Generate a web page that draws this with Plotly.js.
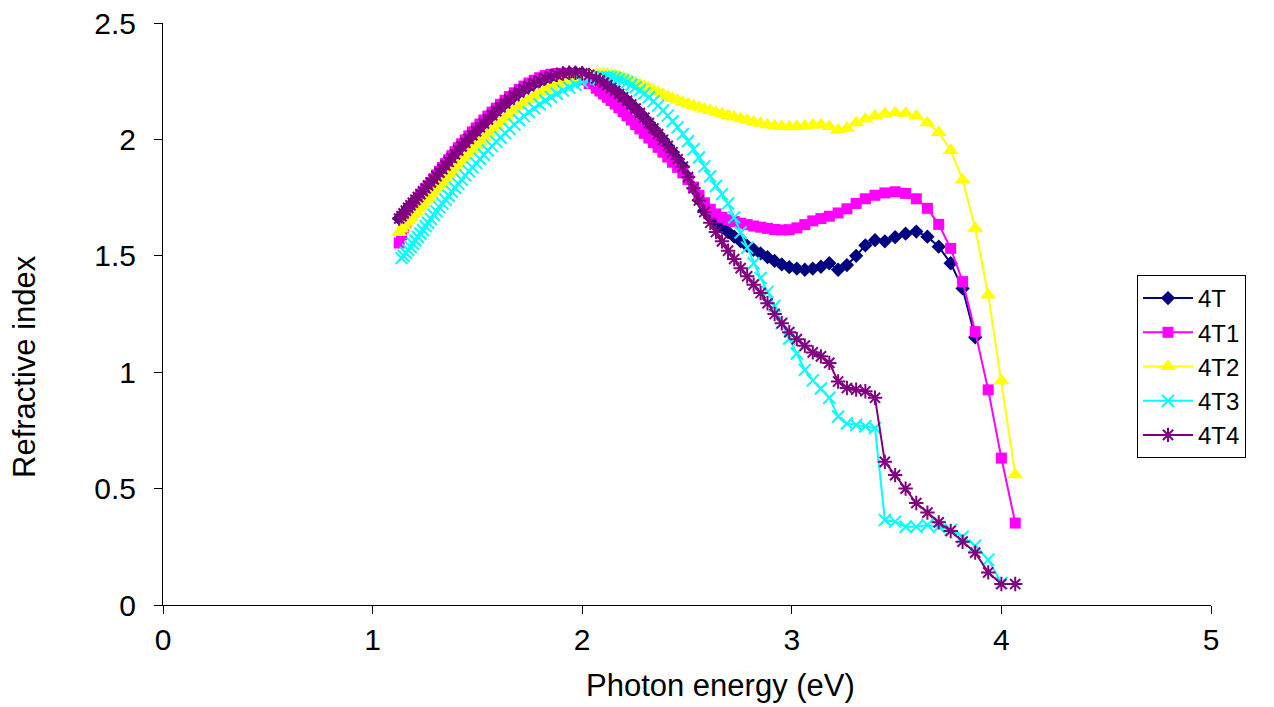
<!DOCTYPE html>
<html>
<head>
<meta charset="utf-8">
<script src="https://cdn.plot.ly/plotly-3.0.1.min.js"></script>
<style>
html,body{margin:0;padding:0;background:#fff;}
#chart{width:1274px;height:707px;}
</style>
</head>
<body>
<div id="chart"></div>
<script>
// Photon energy (eV) sampling shared by all series
const energy = [
1.127,1.138,1.148,1.159,1.170,1.181,1.192,1.204,1.216,1.228,
1.240,1.253,1.265,1.278,1.292,1.305,1.319,1.333,1.348,1.363,
1.378,1.393,1.409,1.425,1.442,1.459,1.476,1.494,1.512,1.531,
1.550,1.570,1.590,1.610,1.632,1.653,1.676,1.699,1.722,1.746,
1.771,1.797,1.824,1.851,1.879,1.908,1.938,1.968,2.000,2.033,
2.067,2.084,2.102,2.120,2.138,2.157,2.175,2.195,2.214,2.234,
2.255,2.275,2.296,2.318,2.340,2.362,2.385,2.408,2.431,2.455,
2.480,2.505,2.531,2.557,2.583,2.611,2.638,2.667,2.696,2.725,
2.756,2.787,2.818,2.851,2.884,2.918,2.952,2.988,3.024,3.062,
3.100,3.139,3.179,3.221,3.263,3.307,3.351,3.397,3.444,3.493,
3.543,3.594,3.647,3.701,3.758,3.815,3.875,3.937,4.000,4.066];

const n4T = [
1.660,1.670,1.682,1.694,1.706,1.717,1.728,1.740,1.752,1.765,
1.777,1.790,1.802,1.815,1.828,1.842,1.857,1.872,1.888,1.904,
1.920,1.936,1.953,1.970,1.986,2.002,2.018,2.035,2.052,2.069,
2.086,2.104,2.121,2.138,2.155,2.171,2.187,2.202,2.216,2.229,
2.242,2.253,2.263,2.271,2.278,2.283,2.286,2.286,2.284,2.277,
2.262,2.254,2.244,2.233,2.221,2.208,2.195,2.181,2.166,2.150,
2.132,2.113,2.093,2.070,2.047,2.023,1.998,1.972,1.945,1.915,
1.882,1.838,1.790,1.740,1.695,1.665,1.643,1.622,1.602,1.582,
1.562,1.543,1.526,1.510,1.494,1.478,1.463,1.451,1.445,1.440,
1.445,1.453,1.468,1.440,1.460,1.500,1.545,1.567,1.562,1.580,
1.595,1.604,1.582,1.539,1.468,1.360,1.150,null,null,null];

const n4T1 = [
1.555,1.590,1.620,1.645,1.665,1.685,1.703,1.720,1.737,1.753,
1.769,1.785,1.800,1.815,1.831,1.847,1.863,1.879,1.896,1.913,
1.930,1.947,1.964,1.981,1.998,2.015,2.032,2.049,2.066,2.083,
2.100,2.117,2.134,2.151,2.168,2.184,2.200,2.215,2.229,2.242,
2.254,2.265,2.274,2.280,2.283,2.282,2.277,2.268,2.256,2.240,
2.220,2.208,2.195,2.181,2.167,2.152,2.136,2.119,2.101,2.083,
2.064,2.045,2.026,2.006,1.986,1.966,1.945,1.924,1.902,1.880,
1.856,1.828,1.795,1.760,1.728,1.700,1.680,1.665,1.655,1.647,
1.640,1.634,1.628,1.623,1.618,1.613,1.611,1.612,1.620,1.634,
1.650,1.660,1.670,1.684,1.702,1.725,1.745,1.760,1.770,1.775,
1.768,1.745,1.704,1.635,1.532,1.389,1.174,0.924,0.631,0.352];

const n4T2 = [
1.600,1.615,1.628,1.641,1.653,1.665,1.677,1.689,1.701,1.713,
1.725,1.738,1.750,1.763,1.777,1.790,1.804,1.818,1.833,1.848,
1.863,1.878,1.894,1.910,1.926,1.942,1.958,1.975,1.992,2.009,
2.026,2.043,2.060,2.077,2.094,2.110,2.127,2.143,2.158,2.173,
2.187,2.200,2.213,2.225,2.236,2.246,2.255,2.263,2.270,2.275,
2.279,2.280,2.280,2.279,2.277,2.274,2.270,2.265,2.259,2.252,
2.244,2.236,2.228,2.220,2.211,2.202,2.193,2.184,2.176,2.168,
2.160,2.152,2.145,2.138,2.131,2.124,2.117,2.110,2.103,2.096,
2.089,2.082,2.075,2.069,2.063,2.058,2.055,2.054,2.055,2.058,
2.062,2.063,2.055,2.040,2.048,2.072,2.088,2.100,2.110,2.115,
2.112,2.100,2.072,2.030,1.952,1.826,1.618,1.332,0.963,0.560];

const n4T3 = [
null,1.490,1.500,1.512,1.525,1.538,1.552,1.566,1.581,1.596,
1.611,1.627,1.642,1.658,1.675,1.691,1.708,1.724,1.741,1.758,
1.775,1.792,1.809,1.827,1.845,1.863,1.880,1.898,1.916,1.934,
1.952,1.971,1.990,2.008,2.027,2.045,2.064,2.082,2.100,2.117,
2.134,2.151,2.167,2.182,2.196,2.210,2.223,2.235,2.246,2.256,
2.262,2.266,2.268,2.268,2.267,2.264,2.259,2.253,2.245,2.235,
2.224,2.211,2.197,2.181,2.164,2.145,2.124,2.102,2.078,2.052,
2.023,1.992,1.958,1.922,1.884,1.842,1.800,1.765,1.725,1.665,
1.600,1.535,1.468,1.405,1.345,1.285,1.210,1.145,1.080,1.010,
0.965,0.930,0.890,0.810,0.780,0.773,0.768,0.760,0.365,0.358,
0.336,0.336,0.344,0.336,0.322,0.293,0.255,0.195,0.095,null];

const n4T4 = [
1.660,1.670,1.682,1.694,1.706,1.717,1.728,1.740,1.752,1.765,
1.777,1.790,1.802,1.815,1.828,1.842,1.857,1.872,1.888,1.904,
1.920,1.936,1.953,1.970,1.986,2.002,2.018,2.035,2.052,2.069,
2.086,2.104,2.121,2.138,2.155,2.171,2.187,2.202,2.216,2.229,
2.242,2.253,2.263,2.271,2.278,2.283,2.286,2.286,2.284,2.277,
2.262,2.254,2.244,2.233,2.221,2.208,2.195,2.181,2.166,2.150,
2.132,2.113,2.093,2.070,2.047,2.023,1.998,1.972,1.945,1.915,
1.882,1.838,1.790,1.738,1.688,1.642,1.602,1.562,1.522,1.486,
1.447,1.412,1.376,1.340,1.296,1.250,1.210,1.172,1.142,1.114,
1.085,1.068,1.040,0.960,0.932,0.925,0.918,0.890,0.615,0.558,
0.500,0.438,0.397,0.355,0.318,0.272,0.225,0.140,0.090,0.090];

const seriesNames = ['4T','4T1','4T2','4T3','4T4'];
const xTickVals = [0,1,2,3,4,5];
const xTickText = ['0','1','2','3','4','5'];
const yTickVals = [0,0.5,1,1.5,2,2.5];
const yTickText = ['0','0.5','1','1.5','2','2.5'];

const FONT = 'Liberation Sans, Arial, sans-serif';

const styles = [
  {color:'#000080', symbol:'diamond', size:11, lw:0},
  {color:'#FF00FF', symbol:'square', size:11, lw:0},
  {color:'#FFFF00', symbol:'triangle-up', size:14, lw:0},
  {color:'#00FFFF', symbol:'x-thin-open', size:12, lw:2},
  {color:'#800080', symbol:'asterisk-open', size:12, lw:2}
];
const ys = [n4T, n4T1, n4T2, n4T3, n4T4];

const traces = ys.map((y,i) => ({
  type:'scatter', mode:'lines+markers', name:seriesNames[i],
  x: energy, y: y, connectgaps:false,
  line:{color:styles[i].color, width:2},
  marker:{symbol:styles[i].symbol, size:styles[i].size, color:styles[i].color,
          line:{color:styles[i].color, width:styles[i].lw}}
}));

const layout = {
  width:1274, height:707,
  margin:{l:163, r:63, t:23, b:102},
  paper_bgcolor:'#ffffff', plot_bgcolor:'#ffffff',
  font:{family:FONT, color:'#000000', size:30},
  showlegend:true,
  legend:{x:0.9294, y:0.567, xanchor:'left', yanchor:'top',
          bordercolor:'#000000', borderwidth:1, bgcolor:'#ffffff',
          font:{family:FONT, size:24, color:'#000000'}, tracegroupgap:0, itemwidth:50},
  xaxis:{range:[0,5], tickmode:'array', tickvals:xTickVals, ticktext:xTickText,
         ticks:'outside', ticklen:8, tickwidth:1, tickcolor:'#000000',
         showline:true, linecolor:'#000000', linewidth:1, mirror:false,
         showgrid:false, zeroline:false, tickfont:{family:FONT, size:30, color:'#000000'},
         title:{text:''}},
  yaxis:{range:[0,2.5], tickmode:'array', tickvals:yTickVals, ticktext:yTickText,
         ticks:'outside', ticklen:8, tickwidth:1, tickcolor:'#000000', ticklabelstandoff:12,
         showline:true, linecolor:'#000000', linewidth:1, mirror:false,
         showgrid:false, zeroline:false, tickfont:{family:FONT, size:30, color:'#000000'},
         title:{text:''}},
  annotations:[
    {text:'Photon energy (eV)', xref:'paper', yref:'paper', x:0.5315, y:-0.1375,
     xanchor:'center', yanchor:'middle', showarrow:false,
     font:{family:FONT, size:31, color:'#000000'}},
    {text:'Refractive index', xref:'paper', yref:'paper', x:-0.1317, y:0.4107,
     xanchor:'center', yanchor:'middle', textangle:-90, showarrow:false,
     font:{family:FONT, size:31, color:'#000000'}}
  ]
};

Plotly.newPlot('chart', traces, layout, {displayModeBar:false, staticPlot:true});
</script>
</body>
</html>
